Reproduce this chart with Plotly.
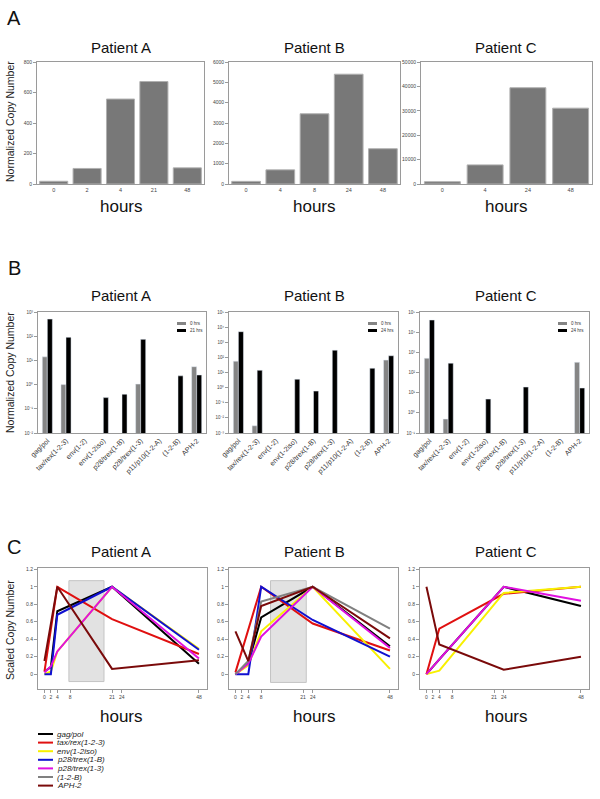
import plotly.graph_objects as go

W, H = 600, 799

# ---- panel A : normalized copy number per time point
a_hours = ['0', '2', '4', '21', '48']
a_copies = [18, 102, 557, 672, 106]
b_hours = ['0', '4', '8', '24', '48']
b_copies = [130, 697, 3454, 5400, 1735]
c_hours = ['0', '4', '24', '48']
c_copies = [946, 7838, 39459, 31081]

# ---- panel B : transcripts, early vs late time point
transcripts = ['gag/pol', 'tax/rex(1-2-3)', 'env(1-2)', 'env(1-2iso)', 'p28/trex(1-B)',
               'p28/trex(1-3)', 'p11/p10(1-2-A)', '(1-2-B)', 'APH-2']
a_early = [14, 1.0, None, None, None, 1.05, None, None, 5.5]
a_late = [510, 90, None, 0.29, 0.4, 74, None, 2.3, 2.5]
b_early = [56, 0.003, None, None, None, None, None, None, 66]
b_late = [5000, 14, None, 3.6, 0.59, 300, None, 19, 128]
c_early = [510, 0.49, None, None, None, None, None, None, 320]
c_late = [40000, 290, None, 4.8, None, 19, None, None, 17]
late_labels = ['21 hrs', '24 hrs', '24 hrs']

# ---- panel C : scaled copy number time courses
series_names = ['gag/pol', 'tax/rex(1-2-3)', 'env(1-2iso)', 'p28/trex(1-B)',
                'p28/trex(1-3)', '(1-2-B)', 'APH-2']
series_colors = ['#000000', '#e01010', '#f8f000', '#1010d0', '#e010e0', '#808080', '#7a0a0a']

ca_hours = [0, 2, 4, 21, 48]
ca_vals = [
    [0.03, 0.08, 0.72, 1.0, 0.12],
    [0.03, None, 1.0, 0.63, 0.23],
    [0.0, 0.03, 0.26, 1.0, 0.29],
    [0.0, 0.0, 0.68, 1.0, 0.28],
    [0.02, 0.09, 0.26, 1.0, 0.18],
    None,
    [0.15, None, 1.0, 0.06, 0.16],
]
cb_hours = [0, 4, 8, 24, 48]
cb_vals = [
    [0.0, 0.12, 0.65, 1.0, 0.32],
    [0.02, None, 1.0, 0.58, 0.27],
    [0.0, 0.1, 0.49, 1.0, 0.06],
    [0.0, 0.0, 1.0, 0.62, 0.2],
    [0.0, 0.12, 0.43, 1.0, 0.3],
    [0.0, 0.15, 0.83, 1.0, 0.52],
    [0.49, 0.15, 0.78, 1.0, 0.41],
]
cc_hours = [0, 4, 24, 48]
cc_vals = [
    [0.0, 0.17, 1.0, 0.78],
    [0.0, 0.52, 0.92, 1.0],
    [0.0, 0.04, 0.93, 1.0],
    None,
    [0.0, 0.17, 1.0, 0.84],
    None,
    [1.0, 0.34, 0.05, 0.2],
]
c_ticks = [0, 2, 4, 8, 21, 24, 48]
# shaded window (hours, scaled value) for patients A and B
shade_a = [7.6, 18.5, -0.085, 1.07]
shade_b = [10.9, 22.0, -0.095, 1.07]

FONT = 'Liberation Sans, Arial, sans-serif'
FRAME = '#9a9a9a'


def fx(p):
    return p / W


def fy(p):
    return 1 - p / H


fig = go.Figure()

# ---- panel A bars
for i, (hrs, vals) in enumerate([(a_hours, a_copies), (b_hours, b_copies), (c_hours, c_copies)]):
    n = '' if i == 0 else str(i + 1)
    fig.add_trace(go.Bar(x=hrs, y=vals, xaxis='x' + n, yaxis='y' + n, width=0.84,
                         marker=dict(color='#787878', line=dict(color='#b0b0b0', width=1)),
                         showlegend=False))

# ---- panel B bars
for i, (early, late) in enumerate([(a_early, a_late), (b_early, b_late), (c_early, c_late)]):
    n = str(i + 4)
    fig.add_trace(go.Bar(x=transcripts, y=early, xaxis='x' + n, yaxis='y' + n,
                         offset=-0.27, width=0.27, marker_color='#858585', showlegend=False))
    fig.add_trace(go.Bar(x=transcripts, y=late, xaxis='x' + n, yaxis='y' + n,
                         offset=0.0, width=0.27, marker_color='#000000', showlegend=False))

# ---- panel C lines
for i, (hrs, vals) in enumerate([(ca_hours, ca_vals), (cb_hours, cb_vals), (cc_hours, cc_vals)]):
    n = str(i + 7)
    for name, col, v in zip(series_names, series_colors, vals):
        if v is None:
            continue
        fig.add_trace(go.Scatter(x=hrs, y=v, xaxis='x' + n, yaxis='y' + n, mode='lines',
                                 connectgaps=True, line=dict(color=col, width=2),
                                 name=name, showlegend=False))

layout = dict(width=W, height=H, margin=dict(l=0, r=0, t=0, b=0, autoexpand=False),
              paper_bgcolor='white', plot_bgcolor='white', showlegend=False,
              font=dict(family=FONT, color='#222'), barmode='overlay')

rows = {
    0: [(37, 204), (229, 400), (421, 592)],
    1: [(38, 206), (229, 398), (420, 589)],
    2: [(38, 207), (229, 398), (420, 589)],
}
row_y = [(62, 184), (312, 433), (568, 689)]

base_axis = dict(showline=True, mirror=True, linecolor=FRAME, linewidth=1, showgrid=False,
                 zeroline=False, ticks='outside', ticklen=3, tickcolor=FRAME, automargin=False,
                 tickfont=dict(size=5, color='#444'))

log_ranges = [[-2, 3], [-3, 5], [-1, 5]]
lin_ranges = [[0, 800], [0, 6000], [0, 50000]]
lin_dticks = [200, 1000, 10000]
sup = {'-': '⁻', '0': '⁰', '1': '¹', '2': '²', '3': '³', '4': '⁴', '5': '⁵'}

for r in range(3):
    for c in range(3):
        k = r * 3 + c + 1
        n = '' if k == 1 else str(k)
        x0, x1 = rows[r][c]
        y0, y1 = row_y[r]
        xa = dict(base_axis, domain=[fx(x0), fx(x1)], anchor='y' + n)
        ya = dict(base_axis, domain=[fy(y1), fy(y0)], anchor='x' + n)
        if r == 0:
            xa.update(ticks='', tickfont=dict(size=5.5, color='#444'))
            ya.update(range=lin_ranges[c], dtick=lin_dticks[c], tickformat='d')
        elif r == 1:
            lo, hi = log_ranges[c]
            tv = [10 ** e for e in range(lo, hi + 1)]
            tt = ['10' + ''.join(sup[ch] for ch in str(e)) for e in range(lo, hi + 1)]
            xa.update(ticks='', tickangle=-45, tickfont=dict(size=7, color='#333'),
                      range=[-0.5, 8.5])
            ya.update(type='log', range=[lo, hi], tickvals=tv, ticktext=tt,
                      tickfont=dict(size=4.5, color='#444'))
        else:
            xa.update(range=[-2, 50.5], tickvals=c_ticks, ticktext=[str(t) for t in c_ticks])
            ya.update(range=[-0.17, 1.215], tickvals=[0, 0.2, 0.4, 0.6, 0.8, 1, 1.2],
                      ticktext=['0', '0.2', '0.4', '0.6', '0.8', '1', '1.2'])
        layout['xaxis' + n] = xa
        layout['yaxis' + n] = ya

fig.update_layout(**layout)

# shaded windows in panel C
for n, s in [('7', shade_a), ('8', shade_b)]:
    fig.add_shape(type='rect', xref='x' + n, yref='y' + n, x0=s[0], x1=s[1], y0=s[2], y1=s[3],
                  fillcolor='#e2e2e2', line=dict(color='#c4c4c4', width=1), layer='below')


def label(x, y, text, size, **kw):
    fig.add_annotation(x=fx(x), y=fy(y), xref='paper', yref='paper', text=text,
                       showarrow=False, xanchor=kw.pop('xanchor', 'center'), yanchor='middle',
                       font=dict(size=size, color=kw.pop('color', '#111'),
                                 style=kw.pop('style', 'normal')), **kw)


# titles and labels
centers = [121, 314, 506]
patients = ['Patient A', 'Patient B', 'Patient C']
for ty in [47, 295, 551]:
    for cx, p in zip(centers, patients):
        label(cx, ty, p, 15)
for hy in [206, 716]:
    for cx in centers:
        label(cx, hy, 'hours', 17)
for letter, ly in [('A', 18), ('B', 268), ('C', 547)]:
    label(14, ly, letter, 20)
for txt, cy in [('Normalized Copy Number', 122), ('Normalized Copy Number', 373),
                ('Scaled Copy Number', 630)]:
    label(10, cy, txt, 10.5, textangle=-90, color='#222')

# small legends in panel B
for lx, late in zip([177, 368, 558], late_labels):
    for j, (col, lab) in enumerate([('#858585', '0 hrs'), ('#000000', late)]):
        yy = 322 + j * 7
        fig.add_shape(type='rect', xref='paper', yref='paper', x0=fx(lx), x1=fx(lx + 9),
                      y0=fy(yy + 3), y1=fy(yy), fillcolor=col, line=dict(width=0))
        label(lx + 11, yy + 1.5, lab, 4.5, xanchor='left', color='#333')

# legend for panel C
for j, (name, col) in enumerate(zip(series_names, series_colors)):
    yy = 734 + j * 8.6
    fig.add_shape(type='line', xref='paper', yref='paper', x0=fx(38), x1=fx(53),
                  y0=fy(yy), y1=fy(yy), line=dict(color=col, width=2))
    label(55, yy, name, 8, xanchor='left', color='#222', style='italic')

# page margin off so the 600x799 figure fills the window exactly
fig.write_html('out.html', config={'displayModeBar': False},
               post_script="document.body.style.margin='0';")
